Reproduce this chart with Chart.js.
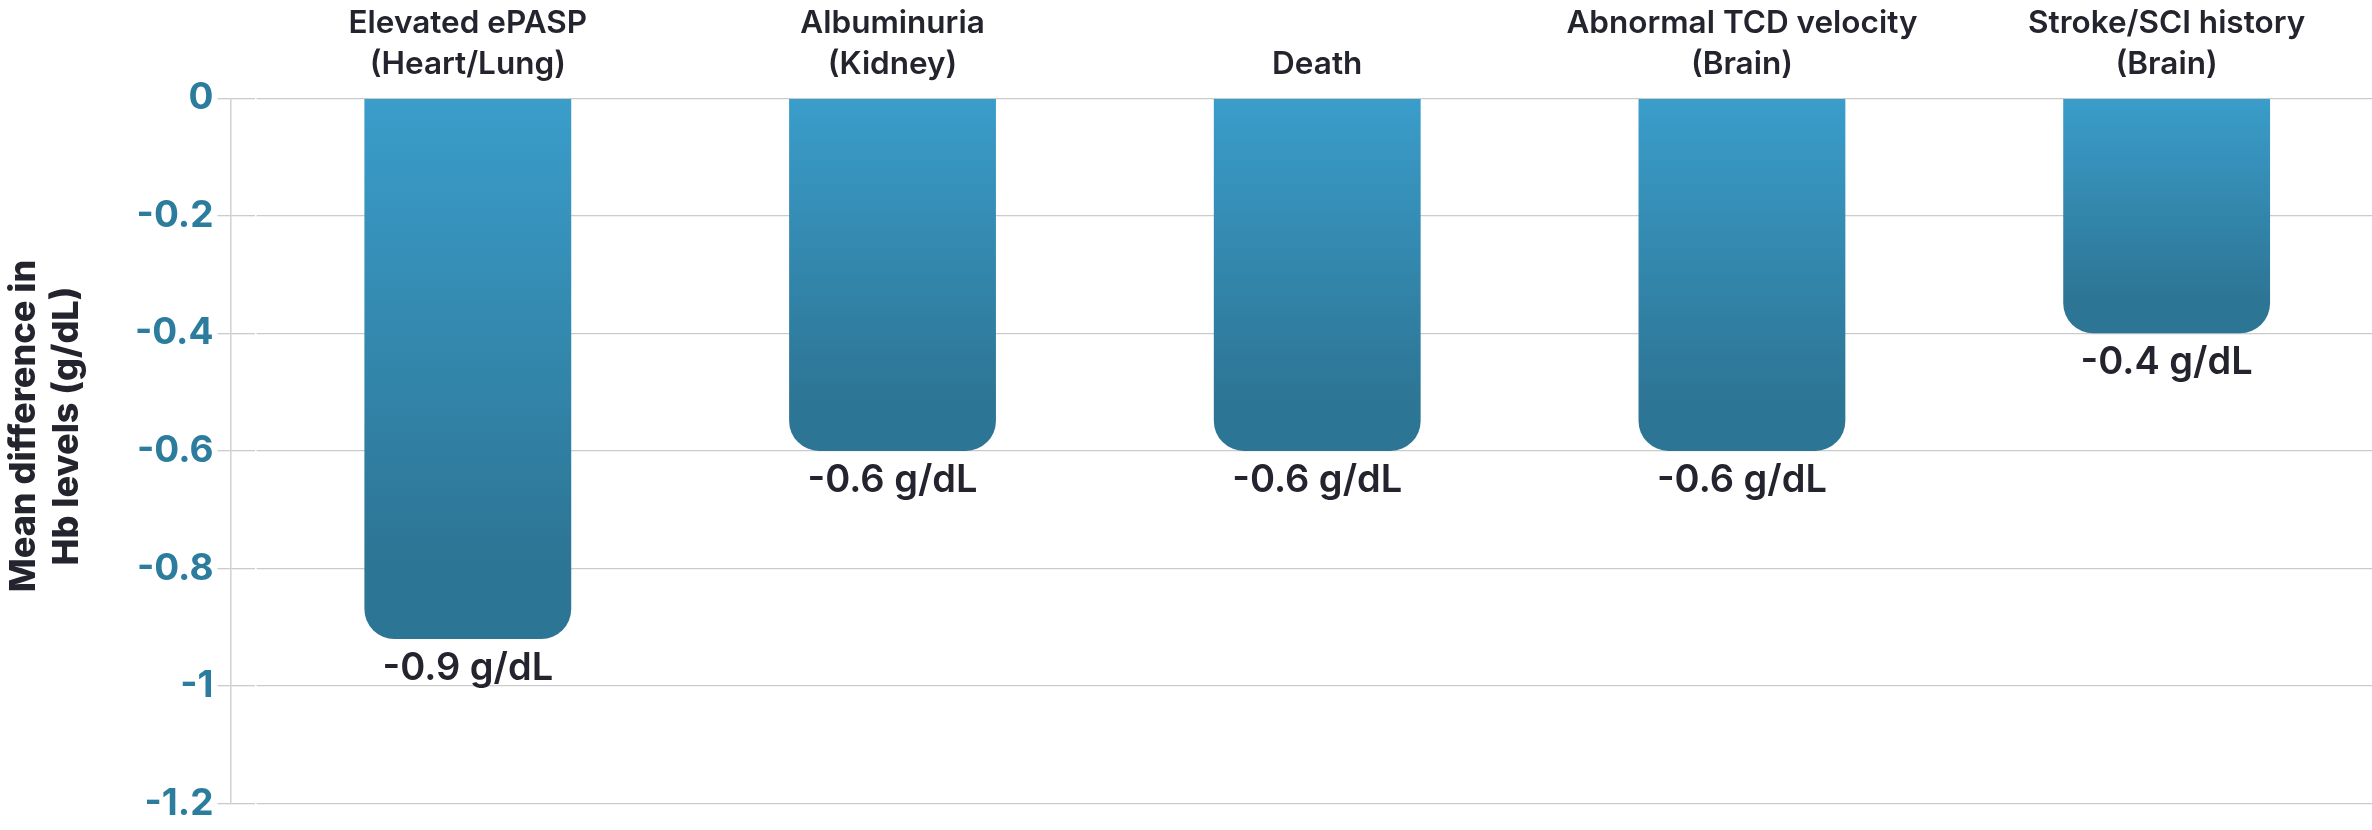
<!DOCTYPE html>
<html>
<head>
<meta charset="utf-8">
<script src="https://cdn.jsdelivr.net/npm/chart.js@4.4.1/dist/chart.umd.min.js"></script>
<style>
    html, body { margin: 0; padding: 0; background: #ffffff; overflow: hidden; }
    #wrap { width: 2380px; height: 830px; }
</style>
</head>
<body>
<div id="wrap"><canvas id="chart" width="2380" height="830"></canvas></div>
<script>
// Mean difference in Hb levels by outcome
const categories = [
    ['Elevated ePASP', '(Heart/Lung)'],
    ['Albuminuria', '(Kidney)'],
    ['Death'],
    ['Abnormal TCD velocity', '(Brain)'],
    ['Stroke/SCI history', '(Brain)']
];
const meanDiff = [-0.92, -0.6, -0.6, -0.6, -0.4];
const yTickValues = [0, -0.2, -0.4, -0.6, -0.8, -1, -1.2];
const yTitle = ['Mean difference in', 'Hb levels (g/dL)'];

const textDark = '#24242e';
const tickTeal = '#2c7c9e';
const gridGray = '#cbcbcb';
const barTop = '#3a9dca';
const barBottom = '#2d7595';
const fontFamily = 'Inter, "Noto Sans", sans-serif';

function formatValue(value) {
    return value.toFixed(1) + ' g/dL';
}

function barGradient(context) {
    const chart = context.chart;
    const yScale = chart.scales.y;
    if (!chart.chartArea || context.type !== 'data' || !yScale) {
        return barTop;
    }
    const y0 = yScale.getPixelForValue(0);
    const y1 = yScale.getPixelForValue(context.parsed.y);
    const gradient = chart.ctx.createLinearGradient(0, y0, 0, y1);
    gradient.addColorStop(0, barTop);
    gradient.addColorStop(0.85, barBottom);
    gradient.addColorStop(1, barBottom);
    return gradient;
}

function useTickValues(axis) {
    axis.ticks = yTickValues.map((value) => ({ value }));
}

// Draw the "-0.x g/dL" text under each bar
const valueLabels = {
    id: 'valueLabels',
    afterDatasetsDraw(chart) {
        const { ctx } = chart;
        const meta = chart.getDatasetMeta(0);
        ctx.save();
        ctx.font = '600 38px ' + fontFamily;
        ctx.fillStyle = textDark;
        ctx.textAlign = 'center';
        ctx.textBaseline = 'alphabetic';
        meta.data.forEach((bar, i) => {
            ctx.fillText(formatValue(meanDiff[i]), bar.x, bar.y + 41);
        });
        ctx.restore();
    }
};

new Chart(document.getElementById('chart'), {
    type: 'bar',
    data: {
        labels: categories,
        datasets: [{
            data: meanDiff,
            backgroundColor: barGradient,
            borderWidth: 0,
            borderRadius: 30,
            borderSkipped: 'start',
            barPercentage: 0.487,
            categoryPercentage: 1
        }]
    },
    options: {
        responsive: false,
        animation: false,
        devicePixelRatio: 1,
        layout: {
            // negative bottom padding lets the left title sit a bit higher than the plot centre
            padding: { top: 0, bottom: -22, left: 0, right: 1 }
        },
        scales: {
            x: {
                position: 'top',
                grid: { display: false, drawTicks: false },
                border: { display: false },
                ticks: {
                    color: textDark,
                    padding: 13,
                    autoSkip: false,
                    maxRotation: 0,
                    font: { family: fontFamily, size: 31.5, weight: '600', lineHeight: 1.3 }
                },
                afterFit(scale) {
                    scale.height = 98.3;
                }
            },
            xPad: {
                type: 'category',
                position: 'bottom',
                grid: { display: false, drawTicks: false },
                border: { display: false },
                ticks: { display: false },
                afterFit(scale) {
                    scale.height = 48.5;
                }
            },
            y: {
                position: 'left',
                weight: 1,
                min: -1.2,
                max: 0,
                afterBuildTicks: useTickValues,
                grid: {
                    color: gridGray,
                    lineWidth: 1.3,
                    drawTicks: true,
                    tickLength: 13
                },
                border: { display: true, color: '#d3d3d3', width: 1.6 },
                ticks: {
                    color: tickTeal,
                    padding: 4,
                    font: { family: fontFamily, size: 37, weight: '700' },
                    callback: (value) => String(Math.round(value * 10) / 10)
                },
                afterFit(scale) {
                    scale.width = 132.5;
                }
            },
            yGap: {
                type: 'linear',
                position: 'left',
                weight: 0,
                min: -1.2,
                max: 0,
                afterBuildTicks: useTickValues,
                grid: {
                    color: gridGray,
                    lineWidth: 1.3,
                    drawOnChartArea: false,
                    drawTicks: true,
                    tickLength: 25
                },
                border: { display: false },
                ticks: { display: false },
                afterFit(scale) {
                    scale.width = 25;
                }
            }
        },
        plugins: {
            legend: { display: false },
            tooltip: { enabled: false },
            title: {
                display: true,
                position: 'left',
                text: yTitle,
                color: textDark,
                padding: { top: 3, bottom: 10 },
                font: { family: fontFamily, size: 36, weight: '800', lineHeight: 1.18 }
            }
        }
    },
    plugins: [valueLabels]
});
</script>
</body>
</html>
